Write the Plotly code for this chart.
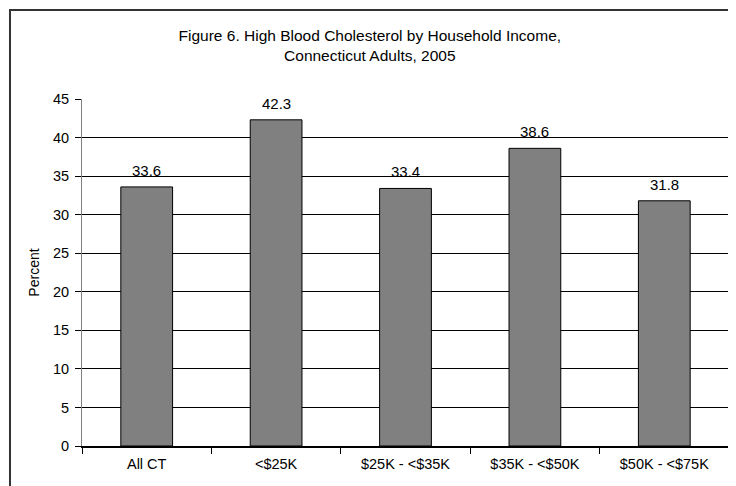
import plotly.graph_objects as go

categories = ["All CT", "<$25K", "$25K - <$35K", "$35K - <$50K", "$50K - <$75K"]
percent = [33.6, 42.3, 33.4, 38.6, 31.8]
y_ticks = [0, 5, 10, 15, 20, 25, 30, 35, 40, 45]

FONT = "Liberation Sans, Arial, sans-serif"

fig = go.Figure(go.Bar(
    x=categories,
    y=percent,
    marker=dict(color="#808080", line=dict(color="#000000", width=1)),
    width=0.4,
    hoverinfo="x+y",
))

for cat, val in zip(categories, percent):
    fig.add_annotation(
        x=cat, y=val, text=f"{val:.1f}", showarrow=False,
        yanchor="bottom", yshift=6, font=dict(size=15, color="#000"),
    )

# outer chart border (left/top visible, rest runs off the page)
fig.add_shape(
    type="rect", xref="paper", yref="paper",
    x0=-0.1113, x1=1.2, y0=-0.3, y1=1.2565,
    line=dict(color="#333333", width=2), layer="below",
)

# page has an 8px body margin, so the figure is 8px smaller than the window
fig.update_layout(
    width=728, height=478,
    margin=dict(l=74, r=7, t=91, b=40),
    paper_bgcolor="white", plot_bgcolor="white",
    font=dict(family=FONT, size=14, color="#000"),
    title=dict(
        text="Figure 6. High Blood Cholesterol by Household Income,<br>Connecticut Adults, 2005",
        x=0.497, xref="container", xanchor="center",
        y=1 - 33 / 478, yref="container", yanchor="top",
        font=dict(size=15.5),
    ),
    showlegend=False,
    bargap=0.6,
)

fig.update_xaxes(
    type="category", tickson="boundaries", ticks="outside", ticklen=6,
    tickcolor="#000", showline=True, linecolor="#000", linewidth=2,
    showgrid=False, tickfont=dict(size=14.5), ticklabelstandoff=4,
)
fig.update_yaxes(
    range=[0, 45], tickvals=y_ticks, ticks="outside", ticklen=6, tickcolor="#000",
    showline=True, linecolor="#808080", linewidth=1,
    showgrid=True, gridcolor="#000", gridwidth=1, zeroline=False,
    title=dict(text="Percent", font=dict(size=14), standoff=10),
    tickfont=dict(size=14.5), ticklabelstandoff=3,
)

fig.write_html("out.html")
